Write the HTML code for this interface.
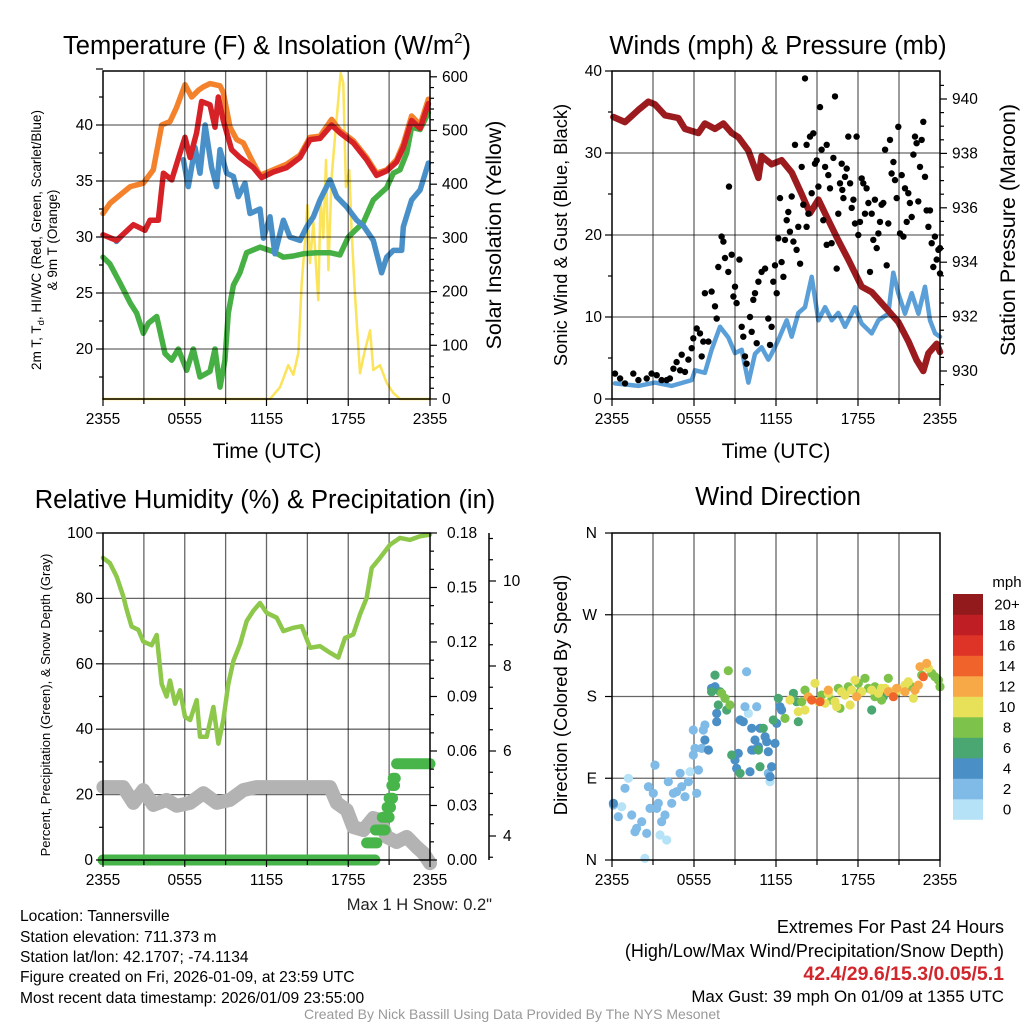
<!DOCTYPE html>
<html><head><meta charset="utf-8"><style>
html,body{margin:0;padding:0;background:#fff;}
svg{display:block;font-family:"Liberation Sans",Arial,sans-serif;}
</style></head><body>
<svg id="fig" width="1024" height="1024" viewBox="0 0 1024 1024" xmlns="http://www.w3.org/2000/svg">
<rect x="0" y="0" width="1024" height="1024" fill="#fff"/>
<g id="layer"></g>
<!-- titles -->
<text x="267" y="54" font-size="25.5" text-anchor="middle">Temperature (F) &amp; Insolation (W/m<tspan font-size="15" dy="-11">2</tspan><tspan dy="11">)</tspan></text>
<text x="778" y="54" font-size="25.5" text-anchor="middle">Winds (mph) &amp; Pressure (mb)</text>
<text x="265" y="508" font-size="25.5" text-anchor="middle">Relative Humidity (%) &amp; Precipitation (in)</text>
<text x="778" y="505" font-size="25.5" text-anchor="middle">Wind Direction</text>
<!-- axis titles -->
<text x="267" y="458" font-size="21" text-anchor="middle">Time (UTC)</text>
<text x="776" y="458" font-size="21" text-anchor="middle">Time (UTC)</text>
<text transform="translate(41,240) rotate(-90)" font-size="13.5" text-anchor="middle">2m T, T<tspan font-size="9.5" dy="3">d</tspan><tspan dy="-3">, HI/WC (Red, Green, Scarlet/Blue)</tspan></text>
<text transform="translate(57,240) rotate(-90)" font-size="13.5" text-anchor="middle">&amp; 9m T (Orange)</text>
<text transform="translate(501,235) rotate(-90)" font-size="21.4" text-anchor="middle">Solar Insolation (Yellow)</text>
<text transform="translate(567,235) rotate(-90)" font-size="18.3" text-anchor="middle">Sonic Wind &amp; Gust (Blue, Black)</text>
<text transform="translate(1015,230) rotate(-90)" font-size="21.5" text-anchor="middle">Station Pressure (Maroon)</text>
<text transform="translate(50,705) rotate(-90)" font-size="13" text-anchor="middle">Percent, Precipitation (Green), &amp; Snow Depth (Gray)</text>
<text transform="translate(567,695) rotate(-90)" font-size="18.5" text-anchor="middle">Direction (Colored By Speed)</text>
<text x="492" y="910" font-size="16.5" text-anchor="end" fill="#222">Max 1 H Snow: 0.2"</text>
<!-- footer left -->
<g font-size="15.6" fill="#000">
<text x="20" y="921">Location: Tannersville</text>
<text x="20" y="942">Station elevation: 711.373 m</text>
<text x="20" y="962">Station lat/lon: 42.1707; -74.1134</text>
<text x="20" y="982">Figure created on Fri, 2026-01-09, at 23:59 UTC</text>
<text x="20" y="1003">Most recent data timestamp: 2026/01/09 23:55:00</text>
</g>
<g font-size="18" text-anchor="end">
<text x="1004" y="933">Extremes For Past 24 Hours</text>
<text x="1004" y="957">(High/Low/Max Wind/Precipitation/Snow Depth)</text>
<text x="1004" y="980" fill="#d0262c" font-weight="bold" font-size="19.5">42.4/29.6/15.3/0.05/5.1</text>
<text x="1004" y="1002" font-size="16.9">Max Gust: 39 mph On 01/09 at 1355 UTC</text>
</g>
<text x="512" y="1019" font-size="14" fill="#999" text-anchor="middle">Created By Nick Bassill Using Data Provided By The NYS Mesonet</text>
</svg>
<script>
// ---------- Panel 1 data (hours since 2355 UTC) ----------
const redT = [0,1.0,2.23,3.08,3.45,4.06,4.43,5.04,5.65,6.02,6.39,6.87,7.24,7.85,8.22,8.46,8.83,9.44,10.05,11.03,11.64,12.5,13.48,14.46,15.19,15.93,16.78,17.39,18.37,19.35,20.08,20.82,21.55,22.04,22.65,23.27,23.88];
const redV = [30.2,29.7,31.1,30.6,31.5,31.5,35.7,35.1,37.5,38.9,37.1,39.3,42.1,41.8,39.8,42.5,40.4,37.8,37.1,36.2,35.3,35.8,36.2,37.1,38.7,38.8,40.0,39.3,38.4,36.9,35.5,35.9,36.7,38.0,40.4,39.7,41.9];
const orangeT = [0,0.51,2.0,2.96,3.69,4.31,4.92,5.41,6.02,6.51,7.0,7.36,7.85,8.59,8.83,9.32,9.81,10.3,10.91,11.52,12.5,13.48,14.46,15.19,15.93,16.78,17.39,18.37,19.35,20.08,20.82,21.55,22.04,22.65,23.27,23.88];
const orangeV = [32.1,33.0,34.5,34.8,36.0,40.0,40.3,41.6,43.6,42.5,43.1,43.4,43.7,43.5,42.9,39.8,38.7,38.4,36.9,35.5,36.0,36.5,37.3,38.9,39.0,40.5,39.5,38.6,37.1,35.7,36.0,36.9,38.3,40.8,40.0,42.3];
const blueT = [0.98,1.3,null,5.9,6.26,6.75,7.12,7.49,7.97,8.34,8.59,9.08,9.57,9.93,10.42,10.79,11.52,11.77,12.26,12.62,13.24,13.72,14.46,14.95,15.44,15.93,16.66,17.15,17.88,18.62,19.11,19.84,20.45,20.82,21.31,21.92,22.04,22.65,23.27,23.88];
const blueV = [29.6,30.0,null,36.9,34.5,38.0,35.7,40.0,36.2,34.5,37.8,35.7,35.4,33.6,34.8,32.1,32.5,29.9,31.8,28.5,31.5,30.0,29.7,30.9,31.8,33.3,35.1,33.6,32.7,31.5,31.0,29.7,26.8,28.2,28.8,28.8,30.9,33.3,34.2,36.6];
const greenT = [0,0.51,1.25,2.0,2.47,2.96,3.33,3.94,4.55,5.04,5.53,6.14,6.63,7.12,7.85,8.22,8.59,8.95,9.2,9.57,10.05,10.54,11.52,12.5,13.24,13.97,14.7,15.68,16.66,17.39,18.0,19.11,19.84,20.82,21.31,21.8,22.29,22.65,23.27,23.88];
const greenV = [28.2,27.6,25.9,24.1,23.2,21.4,22.3,22.9,19.6,19.0,20.0,18.1,20.0,17.5,18.0,20.0,16.6,19.0,23.2,25.7,26.8,28.6,29.1,28.7,28.2,28.3,28.5,28.6,28.6,28.4,30.0,31.3,33.3,34.4,35.7,36.0,37.5,39.8,39.6,41.1];
const solarT = [0,12.26,12.99,13.6,13.97,14.34,14.58,14.83,15.0,15.19,15.44,15.68,15.8,15.97,16.17,16.37,16.54,16.78,17.03,17.27,17.44,17.64,17.83,18.08,18.25,18.49,18.86,19.23,19.6,19.84,20.33,20.82,21.31,21.8,24];
const solarV = [0,0,22,63,45,86,216,296,361,253,330,230,184,376,300,445,240,413,488,557,607,588,395,426,309,197,48,91,128,54,63,30,11,0,0];
const tempTicks = [20,25,30,35,40];
const solarTicks = [0,100,200,300,400,500,600];
const timeTickLabels = ["2355","0555","1155","1755","2355"];
// ---------- Panel 2 data ----------
const windT = [0.22,1.93,3.15,4.37,5.83,6.07,6.8,7.29,7.9,8.51,9.0,9.49,9.98,10.46,10.95,11.44,11.68,12.17,12.78,13.15,13.64,14.12,14.61,15.1,15.59,16.08,16.56,17.05,17.78,18.27,19.0,19.49,20.22,20.58,20.95,21.44,21.93,22.42,22.9,23.27,23.64,24];
const windV = [1.9,1.6,2.0,1.6,2.3,3.5,3.2,6.0,8.8,7.5,5.6,6.0,2.0,5.5,6.3,4.8,5.5,7.2,9.6,7.6,10.5,11.2,14.9,9.6,11.2,9.6,10.5,8.8,11.2,9.2,8.0,9.6,10.4,15.4,12.9,10.4,12.9,10.4,13.7,9.6,8.0,7.6];
const gustT = [0.22,0.59,0.95,1.56,1.93,2.54,2.9,3.27,3.63,4.0,4.24,4.49,4.73,4.98,5.1,5.34,5.59,5.83,5.95,6.2,6.44,6.56,6.68,6.8,7.05,7.29,7.54,7.66,7.78,8.02,8.15,8.27,8.51,8.56,8.76,8.88,9.0,9.12,9.32,9.49,9.61,9.73,9.85,10.1,10.22,10.34,10.46,10.59,10.71,10.95,11.2,11.44,11.56,11.68,11.8,11.93,12.05,12.17,12.29,12.41,12.54,12.66,12.78,12.9,13.02,13.15,13.27,13.39,13.51,13.63,13.76,13.88,14.0,14.12,14.24,14.24,14.37,14.49,14.61,14.73,14.85,14.98,15.1,15.22,15.34,15.46,15.59,15.71,15.71,15.83,15.95,16.07,16.2,16.32,16.44,16.56,16.68,16.81,16.85,16.93,17.05,17.17,17.29,17.42,17.54,17.66,17.78,17.9,18.02,18.15,18.27,18.39,18.51,18.63,18.76,18.88,19.0,19.12,19.24,19.37,19.49,19.61,19.73,19.85,19.98,20.1,20.22,20.34,20.46,20.59,20.71,20.83,20.95,21.07,21.2,21.32,21.44,21.56,21.68,21.8,21.93,22.05,22.17,22.29,22.41,22.54,22.66,22.78,22.9,23.02,23.15,23.27,23.39,23.51,23.63,23.76,23.88,24.0,24.0];
const gustV = [3.1,2.5,1.9,3.1,2.3,2.5,3.1,2.9,2.3,2.3,2.5,3.7,4.5,3.5,5.4,3.3,4.8,6.2,7.4,8.6,8.0,5.2,7.0,12.9,7.0,13.1,11.3,9.8,16.1,19.8,19.2,17.2,15.5,25.9,17.6,12.5,13.7,11.7,17.0,8.8,7.6,5.2,4.3,10.0,8.2,12.1,12.9,6.8,14.3,15.5,15.9,9.8,6.6,8.8,14.3,16.3,12.9,19.6,24.5,16.7,14.9,19.4,21.8,22.8,20.4,24.7,19.2,31.0,18.2,21.0,16.5,28.3,23.7,39.1,31.0,21.0,22.6,32.0,25.1,32.4,28.7,29.1,25.9,35.6,30.4,21.8,28.3,31.0,18.8,27.3,25.7,19.0,29.4,36.9,15.9,22.6,26.3,28.7,25.5,24.5,27.1,28.1,32.0,26.3,23.3,24.3,21.4,32.0,20.0,21.6,26.9,26.3,22.6,25.7,23.9,15.5,22.6,19.4,24.3,18.4,20.2,21.6,23.7,23.9,30.4,16.3,21.4,31.6,27.5,28.9,26.7,24.5,33.2,20.2,27.3,19.8,25.7,21.6,25.1,23.9,22.2,29.8,32.0,31.2,24.1,28.3,31.6,33.8,27.1,23.0,21.0,23.0,19.0,16.1,19.8,17.0,18.2,15.3,18.4];
const presT = [0.1,0.95,1.93,2.66,3.15,3.88,4.85,5.34,6.32,6.8,7.54,8.15,8.76,9.24,9.98,10.71,10.95,11.68,12.41,13.15,13.88,14.49,15.1,15.83,16.56,17.29,18.27,19.0,19.98,20.95,21.68,22.29,22.78,23.15,23.76,24.0];
const presV = [939.34,939.15,939.6,939.9,939.8,939.4,939.3,938.9,938.75,939.1,938.9,939.1,938.75,938.6,938.1,937.1,937.9,937.6,937.75,937.3,936.5,935.8,936.3,935.55,934.8,934.1,933.1,932.9,932.35,931.8,931.1,930.4,930.0,930.65,931.0,930.7];
const windTicks = [0,10,20,30,40];
const presTicks = [930,932,934,936,938,940];
// ---------- Panel 3 data ----------
const rhT = [0,0.51,1.0,1.49,1.74,2.1,2.59,2.96,3.57,3.94,4.31,4.67,4.92,5.29,5.65,6.02,6.39,6.88,7.12,7.61,8.1,8.47,8.83,9.2,9.57,10.06,10.55,11.03,11.52,12.01,12.75,13.24,13.97,14.58,15.2,15.93,16.66,17.27,17.76,18.37,18.86,19.35,19.72,20.33,21.06,21.8,22.53,23.27,24];
const rhV = [92.4,90.8,86.7,80.6,76.5,71.4,70.4,66.8,65.7,68.8,53.8,50.0,54.9,47.8,51.9,43.8,42.8,48.9,37.7,37.7,46.8,35.6,42.8,53.8,60.9,66.0,73.1,76.2,78.6,75.6,74.1,70.0,71.0,71.5,64.9,65.4,63.4,61.9,67.9,69.0,75.1,80.1,89.3,92.4,96.4,98.5,97.9,99.0,99.5];
const snowT = [0.03,1.49,2.23,2.96,3.69,4.67,5.41,6.39,7.37,8.34,9.32,10.3,11.28,16.66,17.15,17.89,18.37,19.11,19.84,20.33,20.82,21.55,22.29,23.02,23.51,24];
const snowV = [5.15,5.15,4.78,5.08,4.73,4.85,4.71,4.78,5.01,4.78,4.85,5.08,5.15,5.15,4.78,4.61,4.21,4.14,4.42,4.38,3.98,3.86,3.98,3.74,3.6,3.36];
const precipStart = [0,19.35,20.0,20.5,20.85,21.0,21.2,21.3,21.55];
const precipEnd = [19.96,20.1,20.7,21.0,21.1,21.25,21.4,21.45,24.0];
const precipV = [0,0.0094,0.0165,0.0235,0.029,0.034,0.041,0.045,0.053];
const rhTicks = [0,20,40,60,80,100];
const precipTicks = ["0.00","0.03","0.06","0.09","0.12","0.15","0.18"];
const snowTicks = [4,6,8,10];
// ---------- Panel 4 data ----------
const dirT = [0.71,2.41,3.51,4.0,5.71,9.98,11.56,1.2,
0.1,0.46,0.95,1.44,1.8,1.68,2.17,2.54,2.66,2.78,3.15,3.02,3.39,3.27,3.63,3.88,4.12,4.37,4.49,4.73,4.98,5.1,5.34,5.59,5.95,5.95,6.07,6.32,6.56,6.68,6.8,6.2,9.85,9.73,10.59,11.44,
0.1,7.54,7.29,7.66,7.66,6.8,7.05,9.24,9.0,9.12,9.37,9.61,10.22,10.46,10.34,10.71,10.83,11.2,11.32,11.44,11.93,11.68,11.56,10.22,10.1,12.05,12.29,12.41,
7.54,7.29,7.9,7.78,8.39,8.76,9.37,10.83,11.07,10.71,11.8,12.17,13.27,13.63,13.51,19.0,19.85,
8.51,8.02,8.27,8.63,12.66,13.88,14.12,15.34,16.07,16.56,16.68,17.29,18.02,18.51,18.76,19.24,19.73,20.22,20.71,21.93,22.66,23.39,23.63,23.88,24.0,19.24,18.02,
13.02,13.63,14.12,14.85,15.1,15.59,15.83,16.32,16.8,17.05,17.54,17.78,18.27,19.0,19.49,19.98,20.46,20.95,21.44,21.68,22.05,23.15,16.44,17.42,19.73,
14.37,15.83,17.9,20.22,20.83,22.17,22.41,22.54,23.02,21.44,
14.61,15.22,20.59,22.78];
const dirV = [58.7,1.8,27.5,22,97.2,161.4,86.2,89.9,
60.5,47.7,78.9,49.5,34.8,31.2,42.2,29.3,80.7,56.8,104.5,73.4,62.4,56.8,42.2,49.5,86.2,62.4,73.4,75.2,95.4,80.7,69.7,86.2,115.6,143.1,122.9,99.1,122.9,143.1,148.6,73.4,207.3,168.8,168.8,95.4,
62.4,190.8,189,161.4,152.3,132.1,121.1,117.4,110.1,100.9,154.1,152.3,145,132.1,121.1,124.7,145,135.8,130.2,119.2,128.4,102.7,91.7,121.1,97.2,150.4,168.8,165.1,
203.6,185.3,185.3,170.6,165.1,115.6,95.4,102.7,145,121.1,154.1,178,183.5,152.3,174.3,165.1,179.8,
208.4,183.5,178,170.6,155.9,174.3,187.1,181.6,176.1,189,166.9,190.8,183.5,200,189,190.8,176.1,200,183.5,190.8,203.6,205.5,201.8,198.1,190.8,179.8,194.5,
176.1,163.3,165.1,194.5,174.3,172.5,183.5,174.3,185.3,181.6,187.1,198.1,185.3,187.1,183.5,189,185.3,187.1,192.6,196.3,178,211,168.8,170.6,189,
179.8,187.1,179.8,185.3,189,187.1,192.6,212.8,216.5,185.3,
176.1,174.3,179.8,201.8];
const dirSpeed = [1,1,1,1,1,1,1,1,
3,3,3,3,3,3,3,3,3,3,3,3,3,3,3,3,3,3,3,3,3,3,3,3,3,3,3,3,3,3,3,3,3,3,3,3,
5,5,5,5,5,5,5,5,5,5,5,5,5,5,5,5,5,5,5,5,5,5,5,5,5,5,5,5,
7,7,7,7,7,7,7,7,7,7,7,7,7,7,7,7,7,
9,9,9,9,9,9,9,9,9,9,9,9,9,9,9,9,9,9,9,9,9,9,9,9,9,9,9,
11,11,11,11,11,11,11,11,11,11,11,11,11,11,11,11,11,11,11,11,11,11,11,11,11,
13,13,13,13,13,13,13,13,13,13,
15,15,15,15];
const dirTickLabels = ["N","E","S","W","N"];
const dirTicks = [0,90,180,270,360];
const speedBinLabels = ["0","2","4","6","8","10","12","14","16","18","20+"];
const speedBinColors = ["#b5e2f7","#7fbbe6","#4a8fc6","#4aa771","#7dc24b","#e7e15a","#f7a947","#f0632b","#de3427","#bf1e25","#921a1c"];

// ---------- axis functions ----------
const P1 = {l:103,r:430,t:71,b:399}, P2 = {l:612,r:940,t:71,b:399}, P3 = {l:103,r:430,t:533,b:860}, P4 = {l:612,r:940,t:533,b:860};
const xT = (P,t) => P.l + t/24*(P.r-P.l);
const yTemp = v => 125 - (v-40)*11.2;
const ySolar = w => 399 - w*0.537;
const yWind = v => 399 - v*8.2;
const yPres = p => 99 + (940-p)*27.2;
const yRH = v => 860 - v*3.27;
const yPrecip = p => 860 - p*1816.7;
const ySnow = s => 836 - (s-4)*42.5;
const yDir = d => 860 - d*0.9083;

const NS = "http://www.w3.org/2000/svg";
const layer = document.getElementById('layer');
function mk(tag, attrs, parent){
  const e = document.createElementNS(NS, tag);
  for (const k in attrs) e.setAttribute(k, attrs[k]);
  (parent||layer).appendChild(e);
  return e;
}
function pathFrom(P, ts, vs, yf){
  let d = "", pen = false;
  for (let i=0;i<ts.length;i++){
    if (ts[i]===null || vs[i]===null){ pen=false; continue; }
    d += (pen?"L":"M") + xT(P,ts[i]).toFixed(1) + "," + yf(vs[i]).toFixed(1);
    pen = true;
  }
  return d;
}
function grid(P, xs, ys, name){
  const g = mk('g',{});
  
  
  xs.forEach(x=>{ const l = mk('line',{x1:x,x2:x,y1:P.t,y2:P.b,stroke:'#000','stroke-opacity':0.6,'stroke-width':1.3},g);
    
     });
  ys.forEach(y=>{ const l = mk('line',{x1:P.l,x2:P.r,y1:y,y2:y,stroke:'#000','stroke-opacity':0.6,'stroke-width':1.3},g);
    
     });
}
function frame(P, name){
  const r = mk('rect',{x:P.l,y:P.t,width:P.r-P.l,height:P.b-P.t,fill:'none',stroke:'#000','stroke-width':1.5});
  
  
}
function line(P, ts, vs, yf, color, w, name){
  const p = mk('path',{d:pathFrom(P,ts,vs,yf),fill:'none',stroke:color,'stroke-width':w,'stroke-linejoin':'round','stroke-linecap':'round'});
  
  
}
function tick(x1,y1,x2,y2){
  const l = mk('line',{x1:x1,y1:y1,x2:x2,y2:y2,stroke:'#000','stroke-width':1.2});
  
  
}
function label(x,y,txt,anchor,size,name){
  const t = mk('text',{x:x,y:y,'text-anchor':anchor,'font-size':size||15.5});
  t.textContent = txt;
  
  
}
function xAxis(P, name){
  for (let h=0; h<=24; h+=3){ const x = xT(P,h); tick(x,P.b,x,P.b+(h%6===0?7:5)); }
  timeTickLabels.forEach((s,i)=>label(xT(P,i*6), P.b+25, s, 'middle', 15.5, name+'-tick-label'));
}
const hourLines = P => [3,6,9,12,15,18,21].map(h=>xT(P,h));

// ===== Panel 1 =====
line(P1, solarT, solarV, ySolar, '#fbe35a', 2.5, 'solar-insolation-line');
line(P1, greenT, greenV, yTemp, '#46b045', 5.5, 'dewpoint-line');
line(P1, blueT, blueV, yTemp, '#4a90c8', 5.5, 'wind-chill-line');
line(P1, orangeT, orangeV, yTemp, '#f4822d', 5.5, 'temperature-9m-line');
line(P1, redT, redV, yTemp, '#d62127', 5.5, 'temperature-2m-line');
grid(P1, hourLines(P1), tempTicks.map(yTemp), 'temperature-grid');
frame(P1, 'temperature-plot-frame');
for (let v=17.5; v<=45; v+=2.5){ const y=yTemp(v); tick(P1.l-(v%5===0?7:4),y,P1.l,y); }
tempTicks.forEach(v=>label(P1.l-10, yTemp(v)+5, String(v), 'end', 15.5, 'temperature-tick-label'));
for (let w=0; w<=600; w+=20){ const y=ySolar(w); tick(P1.r,y,P1.r+(w%100===0?7:4),y); }
solarTicks.forEach(w=>label(P1.r+12, ySolar(w)+5, String(w), 'start', 15.5, 'solar-tick-label'));
xAxis(P1, 'temperature-x');

// ===== Panel 2 =====
line(P2, windT, windV, yWind, '#5a9fd8', 4.5, 'sonic-wind-line');
line(P2, presT, presV, yPres, '#9b1b1e', 6.5, 'pressure-line');
const gustG = mk('g',{});


for (let i=0;i<Math.min(gustT.length,gustV.length);i++){
  const c = mk('circle',{cx:xT(P2,gustT[i]).toFixed(1),cy:yWind(gustV[i]).toFixed(1),r:3.2,fill:'#000'},gustG);
  
  
}
grid(P2, hourLines(P2), [10,20,30].map(yWind), 'winds-grid');
frame(P2, 'winds-plot-frame');
for (let v=0; v<=40; v+=5){ const y=yWind(v); tick(P2.l-(v%10===0?7:4),y,P2.l,y); }
windTicks.forEach(v=>label(P2.l-10, yWind(v)+5, String(v), 'end', 15.5, 'wind-tick-label'));
for (let p=929.5; p<=940.5; p+=0.5){ const y=yPres(p); if (y<P2.t||y>P2.b) continue; tick(P2.r,y,P2.r+(Math.abs(p%2)<0.01?7:4),y); }
presTicks.forEach(p=>label(P2.r+12, yPres(p)+5, String(p), 'start', 15.5, 'pressure-tick-label'));
xAxis(P2, 'winds-x');

// ===== Panel 3 =====
grid(P3, hourLines(P3), [20,40,60,80].map(yRH), 'humidity-grid');
line(P3, snowT, snowV, ySnow, '#b3b3b3', 14, 'snow-depth-line');
const prG = mk('g',{});


for (let i=0;i<precipV.length;i++){
  const l = mk('line',{x1:xT(P3,precipStart[i]),x2:xT(P3,precipEnd[i]),y1:yPrecip(precipV[i]),y2:yPrecip(precipV[i]),stroke:'#47b549','stroke-width':11,'stroke-linecap':'round'},prG);
  
  
}
line(P3, rhT, rhV, yRH, '#8dc84b', 4.5, 'relative-humidity-line');
frame(P3, 'humidity-plot-frame');
for (let v=0; v<=100; v+=10){ const y=yRH(v); tick(P3.l-(v%20===0?7:4),y,P3.l,y); }
rhTicks.forEach(v=>label(P3.l-10, yRH(v)+5, String(v), 'end', 15.5, 'humidity-tick-label'));
for (let k=0; k<=18; k++){ const y=yPrecip(k*0.01); tick(P3.r,y,P3.r+(k%3===0?7:4),y); }
precipTicks.forEach(s=>label(P3.r+17, yPrecip(parseFloat(s))+5, s, 'start', 15.5, 'precip-tick-label'));
const snowAxis = mk('line',{x1:489,x2:489,y1:P3.t,y2:P3.b,stroke:'#000','stroke-width':1.5});


for (let s=3.5; s<=11; s+=0.5){ const y=ySnow(s); if (y<P3.t||y>P3.b) continue; tick(489,y,489+(s%2===0?7:4),y); }
snowTicks.forEach(s=>label(503, ySnow(s)+5, String(s), 'start', 15.5, 'snow-tick-label'));
xAxis(P3, 'humidity-x');

// ===== Panel 4 =====
grid(P4, hourLines(P4), [90,180,270].map(yDir), 'direction-grid');
const dG = mk('g',{});


for (let i=0;i<Math.min(dirT.length,dirV.length,dirSpeed.length);i++){
  const bin = Math.min(10, Math.floor(dirSpeed[i]/2));
  const c = mk('circle',{cx:xT(P4,dirT[i]).toFixed(1),cy:yDir(dirV[i]).toFixed(1),r:4.6,fill:speedBinColors[bin]},dG);
  
  
}
frame(P4, 'direction-plot-frame');
dirTicks.forEach((d,i)=>{ const y=yDir(d); tick(P4.l-7,y,P4.l,y); label(P4.l-15, y+5, dirTickLabels[i], 'end', 15.5, 'direction-tick-label'); });
xAxis(P4, 'direction-x');
// colorbar
const cbG = mk('g',{});


const cbTop = 594, cbH = 20.5;
speedBinColors.forEach((col,i)=>{
  const y = cbTop + (10-i)*cbH;
  const r = mk('rect',{x:953,y:y,width:30,height:cbH+0.3,fill:col},cbG);
  
  
  const t = mk('text',{x:1007,y:y+cbH/2+5,'text-anchor':'middle','font-size':15},cbG);
  t.textContent = speedBinLabels[i];
  
  
});
const mphT = mk('text',{x:1007,y:587,'text-anchor':'middle','font-size':15},cbG);
mphT.textContent = 'mph';


</script>
</body></html>
